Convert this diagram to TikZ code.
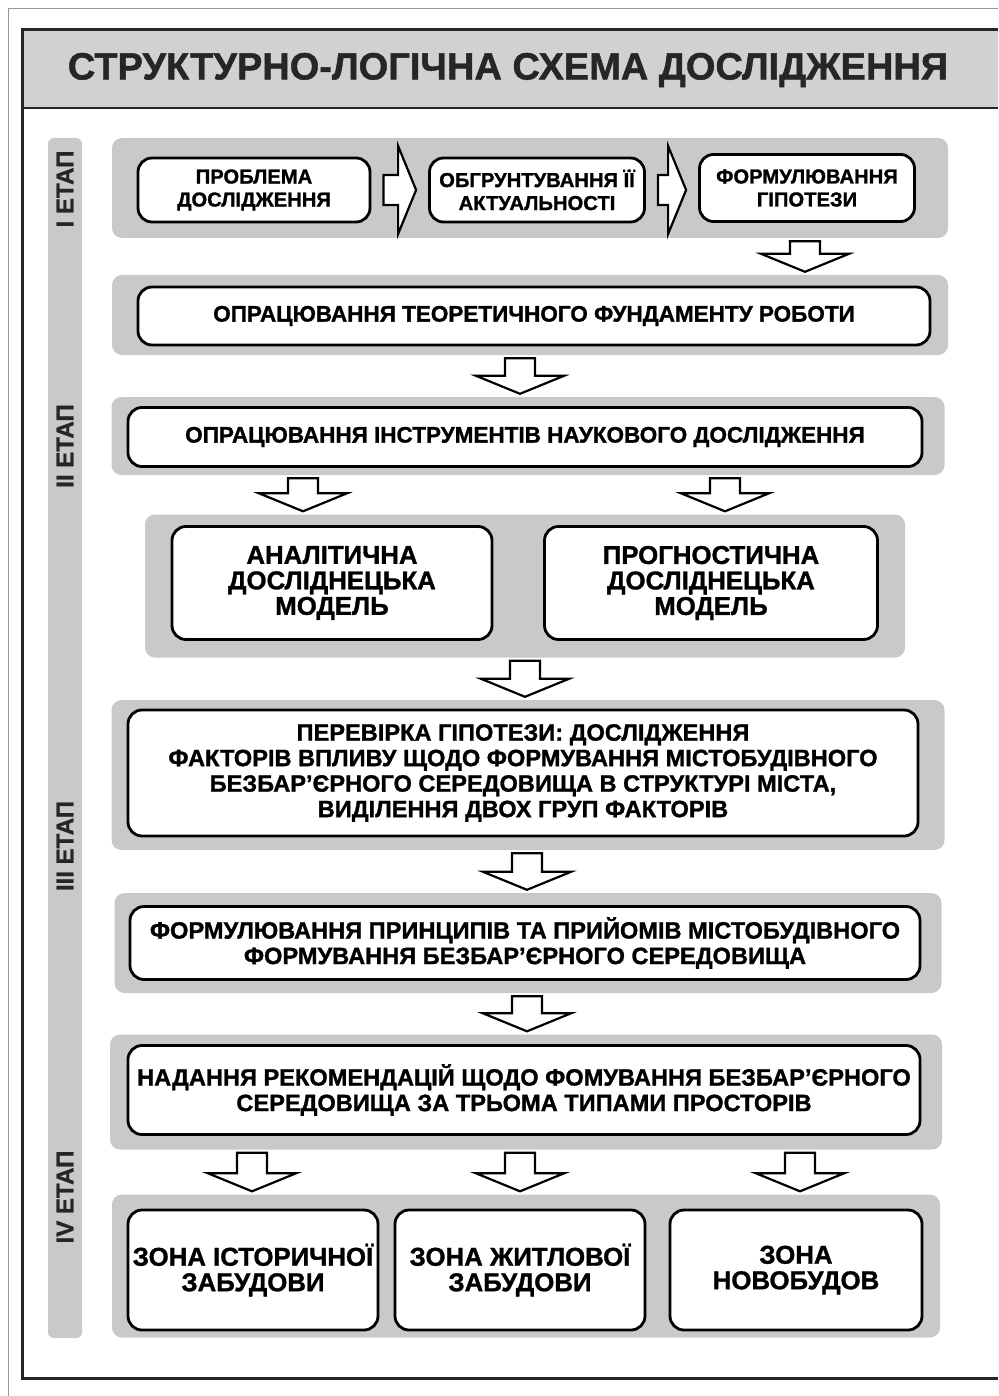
\documentclass[tikz,border=0pt]{standalone}
\usepackage{fontspec}
\setmainfont{Liberation Sans}[BoldFeatures={FakeBold=1.2}]
\usetikzlibrary{calc}
\definecolor{pgray}{RGB}{201,201,201}
\definecolor{tgray}{RGB}{209,209,209}
\tikzstyle{panel} = [fill=pgray,rounded corners=10pt,inner sep=0,minimum width=836,minimum height=100]
\tikzstyle{box} = [draw,line width=2.8pt,fill=white,rounded corners=14pt,align=center,inner sep=0,font=\bfseries\fontsize{22.5}{26}\selectfont]
\tikzstyle{small} = [box,font=\bfseries\fontsize{20.2}{23}\selectfont]
\tikzstyle{wide} = [box,font=\bfseries\fontsize{23.6}{25.5}\selectfont]
\tikzstyle{big} = [box,font=\bfseries\fontsize{25.8}{25.5}\selectfont]
\tikzstyle{blk} = [draw,line width=2.2pt,fill=white,line join=miter]
\tikzstyle{stage} = [rotate=90,font=\bfseries\fontsize{24}{26}\selectfont,text=black!85]
\def \sw {15pt}
\def \hw {44pt}
\def \hl {18pt}
% block arrow downwards at x=#1 from node #2 to node #3
\newcommand{\dnarr}[3]{%
  \draw[blk] let \p1=(#2.south), \p2=(#3.north) in
    (#1pt-\sw,\y1-3pt) -- (#1pt+\sw,\y1-3pt) -- (#1pt+\sw,\y2+3pt+\hl)
    -- (#1pt+\hw,\y2+3pt+\hl) -- (#1pt,\y2+3pt) -- (#1pt-\hw,\y2+3pt+\hl)
    -- (#1pt-\sw,\y2+3pt+\hl) -- cycle;}
% block arrow to the right from node #1 to node #2
\newcommand{\rtarr}[2]{%
  \draw[blk] let \p1=(#1.east), \p2=(#2.west) in
    (\x1+12pt,\y1+\sw) -- (\x2-12pt-\hl,\y1+\sw) -- (\x2-12pt-\hl,\y1+\hw)
    -- (\x2-12pt,\y1) -- (\x2-12pt-\hl,\y1-\hw) -- (\x2-12pt-\hl,\y1-\sw)
    -- (\x1+12pt,\y1-\sw) -- cycle;}

\begin{document}
\begin{tikzpicture}[x=1pt,y=-1pt]
  \useasboundingbox (0,0) rectangle (998,1396);
  % frame and title
  \draw[black!40,line width=0.8pt] (998,8) -- (8,8) -- (8,1396);
  \fill[tgray] (22,30) rectangle (998,108);
  \draw[line width=3pt,black!85] (998,30) -- (22,30) -- (22,1378) -- (998,1378);
  \draw[line width=2pt,black!85] (22,108) -- (998,108);
  \node[font=\bfseries\fontsize{38}{40}\selectfont,text=black!85] (ttl) at (508,70) {СТРУКТУРНО-ЛОГІЧНА СХЕМА ДОСЛІДЖЕННЯ};
  % stages
  \fill[pgray,rounded corners=6pt] (48,138) rectangle (82,1338);
  \node[stage] (s1) at (65,189) {I ЕТАП};
  \node[stage] (s2) at (65,446) {II ЕТАП};
  \node[stage] (s3) at (65,846) {III ЕТАП};
  \node[stage] (s4) at (65,1197) {IV ЕТАП};
  % panels
  \node[panel] (p1) at (530,188) {};
  \node[panel,minimum height=80] (p2) at (530,315) {};
  \node[panel,minimum width=833,minimum height=78] (p3) at (528,436) {};
  \node[panel,minimum width=760,minimum height=143] (p4) at (525,586) {};
  \node[panel,minimum width=833,minimum height=150] (p5) at (528,775) {};
  \node[panel,minimum width=827,minimum height=100] (p6) at (528,943) {};
  \node[panel,minimum width=832,minimum height=115] (p7) at (526,1092) {};
  \node[panel,minimum width=828,minimum height=143] (p8) at (526,1266) {};
  % boxes
  \node[small,minimum width=232,minimum height=64] (b1) at (254,190) {ПРОБЛЕМА\\ДОСЛІДЖЕННЯ};
  \node[small,minimum width=215,minimum height=64] (b2) at (537,190) {ОБГРУНТУВАННЯ ЇЇ\\АКТУАЛЬНОСТІ};
  \node[small,minimum width=215,minimum height=67] (b3) at (807,188) {ФОРМУЛЮВАННЯ\\ГІПОТЕЗИ};
  \node[box,minimum width=792,minimum height=58] (r2) at (534,316) {ОПРАЦЮВАННЯ ТЕОРЕТИЧНОГО ФУНДАМЕНТУ РОБОТИ};
  \node[box,minimum width=794,minimum height=59] (r3) at (525,437) {ОПРАЦЮВАННЯ ІНСТРУМЕНТІВ НАУКОВОГО ДОСЛІДЖЕННЯ};
  \node[big,minimum width=320,minimum height=113] (m1) at (332,583) {АНАЛІТИЧНА\\ДОСЛІДНЕЦЬКА\\МОДЕЛЬ};
  \node[big,minimum width=333,minimum height=113] (m2) at (711,583) {ПРОГНОСТИЧНА\\ДОСЛІДНЕЦЬКА\\МОДЕЛЬ};
  \node[wide,minimum width=790,minimum height=126] (r5) at (523,773) {ПЕРЕВІРКА ГІПОТЕЗИ: ДОСЛІДЖЕННЯ\\ФАКТОРІВ ВПЛИВУ ЩОДО ФОРМУВАННЯ МІСТОБУДІВНОГО\\БЕЗБАР’ЄРНОГО СЕРЕДОВИЩА В СТРУКТУРІ МІСТА,\\ВИДІЛЕННЯ ДВОХ ГРУП ФАКТОРІВ};
  \node[wide,minimum width=790,minimum height=73] (r6) at (525,943) {ФОРМУЛЮВАННЯ ПРИНЦИПІВ ТА ПРИЙОМІВ МІСТОБУДІВНОГО\\ФОРМУВАННЯ БЕЗБАР’ЄРНОГО СЕРЕДОВИЩА};
  \node[wide,minimum width=792,minimum height=89] (r7) at (524,1090) {НАДАННЯ РЕКОМЕНДАЦІЙ ЩОДО ФОМУВАННЯ БЕЗБАР’ЄРНОГО\\СЕРЕДОВИЩА ЗА ТРЬОМА ТИПАМИ ПРОСТОРІВ};
  \node[big,minimum width=250,minimum height=120] (z1) at (253,1270) {ЗОНА ІСТОРИЧНОЇ\\ЗАБУДОВИ};
  \node[big,minimum width=250,minimum height=120] (z2) at (520,1270) {ЗОНА ЖИТЛОВОЇ\\ЗАБУДОВИ};
  \node[big,minimum width=252,minimum height=120] (z3) at (796,1270) {ЗОНА\\НОВОБУДОВ};
  % arrows
  \rtarr{b1}{b2}
  \rtarr{b2}{b3}
  \dnarr{805}{p1}{p2}
  \dnarr{520}{p2}{p3}
  \dnarr{303}{p3}{p4}
  \dnarr{725}{p3}{p4}
  \dnarr{525}{p4}{p5}
  \dnarr{527}{p5}{p6}
  \dnarr{527}{p6}{p7}
  \dnarr{252}{p7}{p8}
  \dnarr{520}{p7}{p8}
  \dnarr{800}{p7}{p8}
\end{tikzpicture}
\end{document}
